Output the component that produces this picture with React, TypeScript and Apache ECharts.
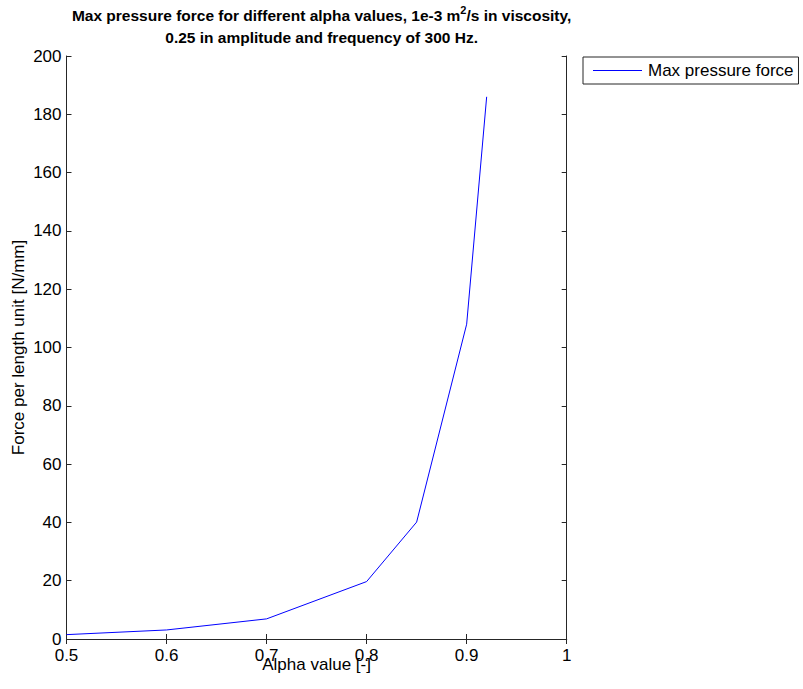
import React, { useEffect, useRef } from "react";
import * as echarts from "echarts";

const alphaValues = [0.5, 0.6, 0.7, 0.8, 0.85, 0.9, 0.92];
const maxForce = [1.5, 3.1, 6.9, 19.7, 40.1, 108.0, 186.0];
const seriesName = "Max pressure force";

export default function App() {
  const ref = useRef<HTMLDivElement>(null);
  useEffect(() => {
    if (!ref.current) return;
    const chart = echarts.init(ref.current, null, { renderer: "svg" });
    const font = "Liberation Sans, Arial, sans-serif";
    const data = alphaValues.map((a, i) => [a, maxForce[i]]);
    const axisLine = { show: true, lineStyle: { color: "#262626", width: 1 } };
    const axisTick = { show: true, inside: true, length: 5, lineStyle: { color: "#262626" } };
    chart.setOption({
      animation: false,
      backgroundColor: "#ffffff",
      title: {
        left: 316.6,
        textAlign: "center",
        top: -1,
        text:
          "{a|Max pressure force for different alpha values, 1e-3 m}{sup|2}{a|/s in viscosity,}\n{a|0.25 in amplitude and frequency of 300 Hz.}",
        textStyle: {
          rich: {
            a: { fontFamily: font, fontSize: 15.5, fontWeight: "bold", color: "#000", lineHeight: 22 },
            sup: { fontFamily: font, fontSize: 11, fontWeight: "bold", color: "#000", verticalAlign: "top", lineHeight: 22, padding: [0, 0, 8, 0] },
          },
        },
      },
      legend: {
        left: 583,
        top: 57,
        orient: "vertical",
        data: [seriesName],
        icon: "rect",
        itemWidth: 49,
        itemHeight: 1,
        itemGap: 0,
        padding: [4, 5, 4, 10],
        borderColor: "#262626",
        borderWidth: 1,
        textStyle: { fontFamily: font, fontSize: 17, color: "#000", padding: [0, 0, 0, 1], lineHeight: 19 },
        itemStyle: { color: "#0000ff" },
      },
      grid: { left: 66.5, top: 56, right: 236.3, bottom: 50, containLabel: false, outerBoundsMode: "none" },
      xAxis: [
        {
          type: "value",
          min: 0.5,
          max: 1,
          interval: 0.1,
          name: "Alpha value [-]",
          nameLocation: "middle",
          nameGap: 17,
          nameMoveOverlap: false,
          nameTextStyle: { fontFamily: font, fontSize: 17, color: "#000", verticalAlign: "top" },
          axisLine,
          axisTick,
          splitLine: { show: false },
          axisLabel: {
            fontFamily: font,
            fontSize: 17,
            color: "#000",
            margin: 8,
            formatter: (v: number) => (Math.abs(v - 1) < 1e-9 ? "1" : String(Math.round(v * 10) / 10)),
          },
        },
        {
          type: "value",
          position: "top",
          min: 0.5,
          max: 1,
          interval: 0.1,
          axisLine,
          axisTick,
          splitLine: { show: false },
          axisLabel: { show: false },
        },
      ],
      yAxis: [
        {
          type: "value",
          min: 0,
          max: 200,
          interval: 20,
          name: "Force per length unit [N/mm]",
          nameLocation: "middle",
          nameGap: 40,
          nameMoveOverlap: false,
          nameTextStyle: { fontFamily: font, fontSize: 17, color: "#000" },
          axisLine,
          axisTick,
          splitLine: { show: false },
          axisLabel: { fontFamily: font, fontSize: 17, color: "#000", margin: 5 },
        },
        {
          type: "value",
          position: "right",
          min: 0,
          max: 200,
          interval: 20,
          axisLine,
          axisTick,
          splitLine: { show: false },
          axisLabel: { show: false },
        },
      ],
      series: [
        {
          name: seriesName,
          type: "line",
          data,
          showSymbol: false,
          symbol: "none",
          lineStyle: { color: "#0000ff", width: 1 },
          itemStyle: { color: "#0000ff" },
        },
      ],
    });
    return () => chart.dispose();
  }, []);
  return <div ref={ref} style={{ width: 803, height: 689, position: "absolute", left: 0, top: 0 }} />;
}
